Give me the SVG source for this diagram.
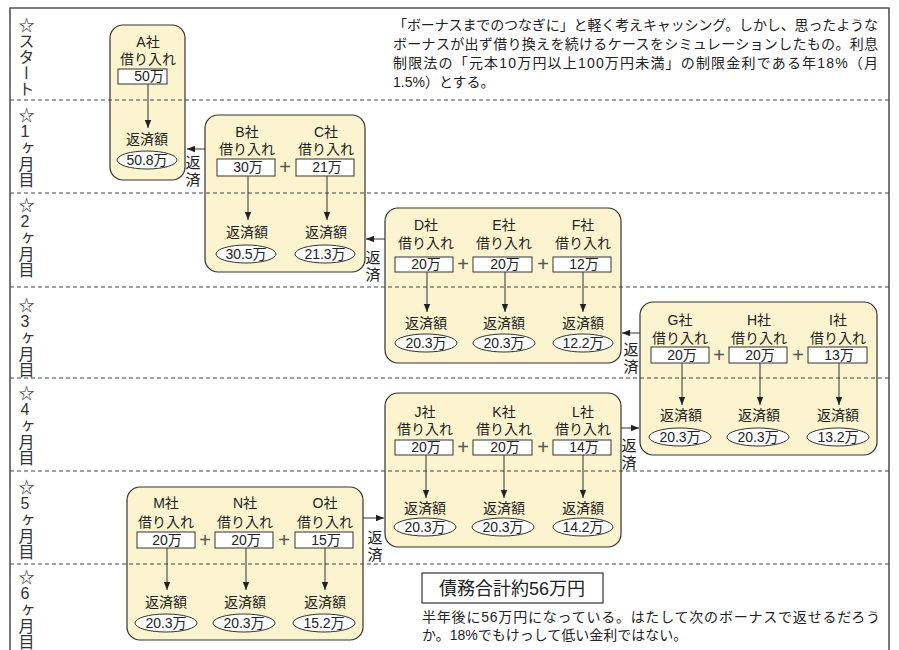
<svg xmlns="http://www.w3.org/2000/svg" width="899" height="650" viewBox="0 0 899 650">
<defs>
<marker id="ah" viewBox="0 0 10 10" refX="10" refY="5" markerWidth="8" markerHeight="8" orient="auto" markerUnits="userSpaceOnUse">
<path d="M0,1 L10,5 L0,9 z" fill="#222"/>
</marker>
</defs>
<style>
.frame{fill:none;stroke:#555;stroke-width:1.6}
.grid{stroke:#444;stroke-width:1;stroke-dasharray:4 3}
.card{fill:#FBF4CF;stroke:#333;stroke-width:1.2}
.amt{fill:#fff;stroke:#333;stroke-width:1}
.res{fill:#fff;stroke:#333;stroke-width:1}
.t{font-family:"Liberation Sans","Noto Sans CJK JP",sans-serif;font-size:14px;fill:#222;text-anchor:middle}
.plus{font-family:"Liberation Sans",sans-serif;font-size:20px;fill:#555;text-anchor:middle}
.arr{stroke:#333;stroke-width:1;fill:none;marker-end:url(#ah)}
.lab{font-family:"Liberation Sans","Noto Sans CJK JP",sans-serif;font-size:16px;fill:#333;writing-mode:vertical-rl;text-orientation:upright}
.rep{font-family:"Noto Sans CJK JP",sans-serif;font-size:15px;fill:#222;writing-mode:vertical-rl;text-orientation:upright;letter-spacing:2px}
.body{font-family:"Liberation Sans","Noto Sans CJK JP",sans-serif;font-size:14px;fill:#222}
</style>
<rect width="899" height="650" fill="#fff"/>

<g id="nodes">
<g id="cardA">
<rect class="card" x="110" y="25" width="75" height="155" rx="13"/>
<text class="t" x="148" y="47">A社</text>
<text class="t" x="148" y="64">借り入れ</text>
<rect class="amt" x="118" y="69" width="49" height="15"/>
<text class="t" x="149" y="81">50万</text>
<text class="t" x="147" y="144">返済額</text>
<ellipse class="res" cx="147" cy="160" rx="30" ry="9"/>
<text class="t" x="147" y="165">50.8万</text>
</g>

<g id="cardBC">
<rect class="card" x="205" y="115" width="160" height="157" rx="13"/>
<text class="t" x="247" y="137">B社</text>
<text class="t" x="247" y="154">借り入れ</text>
<rect class="amt" x="217" y="159" width="58" height="17"/>
<text class="t" x="248" y="172">30万</text>
<text class="t" x="247" y="237">返済額</text>
<ellipse class="res" cx="246" cy="254" rx="30" ry="9"/>
<text class="t" x="246" y="259">30.5万</text>
<text class="plus" x="285" y="174">+</text>
<text class="t" x="326" y="137">C社</text>
<text class="t" x="326" y="154">借り入れ</text>
<rect class="amt" x="296" y="159" width="58" height="17"/>
<text class="t" x="327" y="172">21万</text>
<text class="t" x="326" y="237">返済額</text>
<ellipse class="res" cx="325" cy="254" rx="30" ry="9"/>
<text class="t" x="325" y="259">21.3万</text>
</g>

<g id="cardDEF">
<rect class="card" x="385" y="208" width="236" height="155" rx="13"/>
<text class="t" x="426" y="230">D社</text>
<text class="t" x="426" y="248">借り入れ</text>
<rect class="amt" x="395" y="257" width="58" height="15"/>
<text class="t" x="426" y="269">20万</text>
<text class="t" x="426" y="328">返済額</text>
<ellipse class="res" cx="426" cy="343" rx="31" ry="9"/>
<text class="t" x="426" y="348">20.3万</text>
<text class="plus" x="463" y="271">+</text>
<text class="t" x="504" y="230">E社</text>
<text class="t" x="504" y="248">借り入れ</text>
<rect class="amt" x="473" y="257" width="59" height="15"/>
<text class="t" x="505" y="269">20万</text>
<text class="t" x="504" y="328">返済額</text>
<ellipse class="res" cx="504" cy="343" rx="31" ry="9"/>
<text class="t" x="504" y="348">20.3万</text>
<text class="plus" x="543" y="271">+</text>
<text class="t" x="583" y="230">F社</text>
<text class="t" x="583" y="248">借り入れ</text>
<rect class="amt" x="553" y="257" width="58" height="15"/>
<text class="t" x="584" y="269">12万</text>
<text class="t" x="583" y="328">返済額</text>
<ellipse class="res" cx="583" cy="343" rx="30" ry="9"/>
<text class="t" x="583" y="348">12.2万</text>
</g>

<g id="cardGHI">
<rect class="card" x="640" y="302" width="237" height="153" rx="13"/>
<text class="t" x="680" y="325">G社</text>
<text class="t" x="680" y="343">借り入れ</text>
<rect class="amt" x="651" y="347" width="58" height="16"/>
<text class="t" x="682" y="360">20万</text>
<text class="t" x="681" y="420">返済額</text>
<ellipse class="res" cx="680" cy="437" rx="31" ry="9"/>
<text class="t" x="680" y="442">20.3万</text>
<text class="plus" x="719" y="362">+</text>
<text class="t" x="759" y="325">H社</text>
<text class="t" x="759" y="343">借り入れ</text>
<rect class="amt" x="729" y="347" width="58" height="16"/>
<text class="t" x="760" y="360">20万</text>
<text class="t" x="759" y="420">返済額</text>
<ellipse class="res" cx="758" cy="437" rx="31" ry="9"/>
<text class="t" x="758" y="442">20.3万</text>
<text class="plus" x="798" y="362">+</text>
<text class="t" x="838" y="325">I社</text>
<text class="t" x="838" y="343">借り入れ</text>
<rect class="amt" x="808" y="347" width="59" height="16"/>
<text class="t" x="839" y="360">13万</text>
<text class="t" x="838" y="420">返済額</text>
<ellipse class="res" cx="838" cy="437" rx="31" ry="9"/>
<text class="t" x="838" y="442">13.2万</text>
</g>

<g id="cardJKL">
<rect class="card" x="385" y="393" width="236" height="154" rx="13"/>
<text class="t" x="425" y="417">J社</text>
<text class="t" x="425" y="434">借り入れ</text>
<rect class="amt" x="395" y="440" width="58" height="15"/>
<text class="t" x="426" y="452">20万</text>
<text class="t" x="425" y="513">返済額</text>
<ellipse class="res" cx="425" cy="527" rx="31" ry="9"/>
<text class="t" x="425" y="532">20.3万</text>
<text class="plus" x="463" y="454">+</text>
<text class="t" x="504" y="417">K社</text>
<text class="t" x="504" y="434">借り入れ</text>
<rect class="amt" x="473" y="440" width="59" height="15"/>
<text class="t" x="505" y="452">20万</text>
<text class="t" x="504" y="513">返済額</text>
<ellipse class="res" cx="503" cy="527" rx="31" ry="9"/>
<text class="t" x="503" y="532">20.3万</text>
<text class="plus" x="543" y="454">+</text>
<text class="t" x="583" y="417">L社</text>
<text class="t" x="583" y="434">借り入れ</text>
<rect class="amt" x="553" y="440" width="58" height="15"/>
<text class="t" x="584" y="452">14万</text>
<text class="t" x="583" y="513">返済額</text>
<ellipse class="res" cx="583" cy="527" rx="30" ry="9"/>
<text class="t" x="583" y="532">14.2万</text>
</g>

<g id="cardMNO">
<rect class="card" x="127" y="487" width="236" height="153" rx="13"/>
<text class="t" x="166" y="508">M社</text>
<text class="t" x="166" y="527">借り入れ</text>
<rect class="amt" x="137" y="532" width="58" height="16"/>
<text class="t" x="167" y="545">20万</text>
<text class="t" x="166" y="607">返済額</text>
<ellipse class="res" cx="166" cy="623" rx="31" ry="9"/>
<text class="t" x="166" y="628">20.3万</text>
<text class="plus" x="205" y="547">+</text>
<text class="t" x="245" y="508">N社</text>
<text class="t" x="245" y="527">借り入れ</text>
<rect class="amt" x="215" y="532" width="58" height="16"/>
<text class="t" x="246" y="545">20万</text>
<text class="t" x="245" y="607">返済額</text>
<ellipse class="res" cx="244" cy="623" rx="31" ry="9"/>
<text class="t" x="244" y="628">20.3万</text>
<text class="plus" x="284" y="547">+</text>
<text class="t" x="325" y="508">O社</text>
<text class="t" x="325" y="527">借り入れ</text>
<rect class="amt" x="295" y="532" width="58" height="16"/>
<text class="t" x="326" y="545">15万</text>
<text class="t" x="325" y="607">返済額</text>
<ellipse class="res" cx="324" cy="623" rx="31" ry="9"/>
<text class="t" x="324" y="628">15.2万</text>
</g>

<g id="total">
<rect x="422" y="573" width="181" height="30" fill="#fff" stroke="#333" stroke-width="1.2"/>
<text class="t" x="512" y="595" style="font-size:18px">債務合計約56万円</text>
</g>
</g>

<g id="grid">
<line class="grid" x1="10" y1="100" x2="889" y2="100"/>
<line class="grid" x1="10" y1="193" x2="889" y2="193"/>
<line class="grid" x1="10" y1="287" x2="889" y2="287"/>
<line class="grid" x1="10" y1="378" x2="889" y2="378"/>
<line class="grid" x1="10" y1="471" x2="889" y2="471"/>
<line class="grid" x1="10" y1="564" x2="889" y2="564"/>
</g>

<g id="frame">
<path class="frame" d="M10,650 V8 H889 V650"/>
</g>

<g id="labels">
<text class="lab" x="25" y="17">☆スタート</text>
<text class="lab" x="25" y="107">☆1ヶ月目</text>
<text class="lab" x="25" y="197">☆2ヶ月目</text>
<text class="lab" x="25" y="297">☆3ヶ月目</text>
<text class="lab" x="25" y="385">☆4ヶ月目</text>
<text class="lab" x="25" y="479">☆5ヶ月目</text>
<text class="lab" x="25" y="569">☆6ヶ月目</text>
</g>

<g id="connectors">
<line class="arr" x1="148" y1="84" x2="148" y2="128"/>
<line class="arr" x1="248" y1="176" x2="248" y2="220"/>
<line class="arr" x1="327" y1="176" x2="327" y2="220"/>
<line class="arr" x1="427" y1="272" x2="427" y2="312"/>
<line class="arr" x1="505" y1="272" x2="505" y2="312"/>
<line class="arr" x1="583" y1="272" x2="583" y2="312"/>
<line class="arr" x1="682" y1="363" x2="682" y2="405"/>
<line class="arr" x1="760" y1="363" x2="760" y2="405"/>
<line class="arr" x1="839" y1="363" x2="839" y2="405"/>
<line class="arr" x1="426" y1="455" x2="426" y2="498"/>
<line class="arr" x1="504" y1="455" x2="504" y2="498"/>
<line class="arr" x1="583" y1="455" x2="583" y2="498"/>
<line class="arr" x1="167" y1="548" x2="167" y2="590"/>
<line class="arr" x1="246" y1="548" x2="246" y2="590"/>
<line class="arr" x1="325" y1="548" x2="325" y2="590"/>
<line class="arr" x1="205" y1="149" x2="187" y2="149"/>
<line class="arr" x1="385" y1="239" x2="366" y2="239"/>
<line class="arr" x1="640" y1="333" x2="622" y2="333"/>
<line class="arr" x1="621" y1="428" x2="639" y2="428"/>
<line class="arr" x1="363" y1="518" x2="384" y2="518"/>
<text class="rep" x="193" y="155">返済</text>
<text class="rep" x="373" y="250">返済</text>
<text class="rep" x="631" y="342">返済</text>
<text class="rep" x="629" y="438">返済</text>
<text class="rep" x="375" y="530">返済</text>
</g>

<g id="notes">
<text class="body" x="393" y="30" textLength="485" lengthAdjust="spacing">「ボーナスまでのつなぎに」と軽く考えキャッシング。しかし、思ったような</text>
<text class="body" x="393" y="49" textLength="485" lengthAdjust="spacing">ボーナスが出ず借り換えを続けるケースをシミュレーションしたもの。利息</text>
<text class="body" x="393" y="68" textLength="485" lengthAdjust="spacing">制限法の「元本10万円以上100万円未満」の制限金利である年18%（月</text>
<text class="body" x="393" y="87">1.5%）とする。</text>
<text class="body" x="422" y="622" textLength="458" lengthAdjust="spacing">半年後に56万円になっている。はたして次のボーナスで返せるだろう</text>
<text class="body" x="422" y="640">か。18%でもけっして低い金利ではない。</text>
</g>
</svg>
